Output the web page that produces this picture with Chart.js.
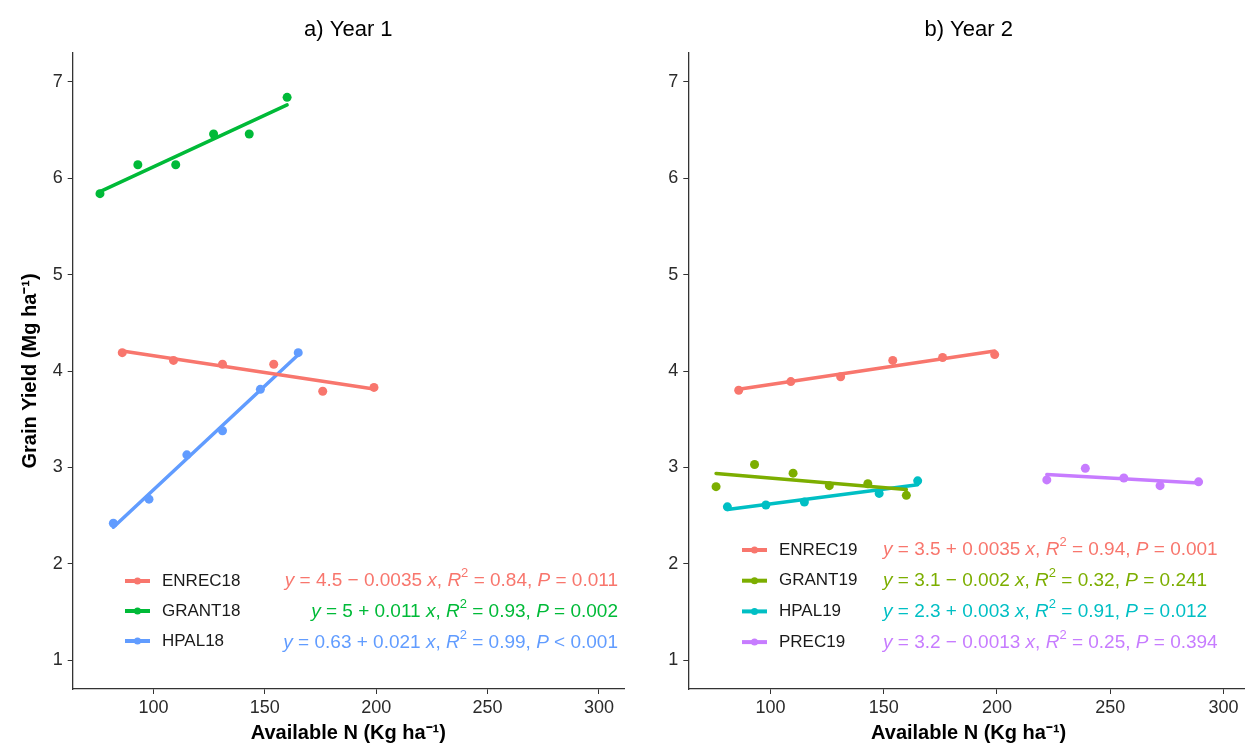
<!DOCTYPE html>
<html>
<head>
<meta charset="utf-8">
<script src="https://cdn.jsdelivr.net/npm/chart.js@4/dist/chart.umd.min.js"></script>
<style>
html, body { margin: 0; padding: 0; background: #fff; overflow: hidden; width: 1245px; height: 753px; }
#year1 { position: absolute; left: 0; top: 0; }
#year2 { position: absolute; left: 620px; top: 0; }
</style>
</head>
<body>
<canvas id="year1" width="630" height="753"></canvas>
<canvas id="year2" width="640" height="753"></canvas>
<script>
// axis ticks
var xTicks = [100, 150, 200, 250, 300];
var yTicks = [1, 2, 3, 4, 5, 6, 7];

// year 1 (2018)
var enrec18N = [86, 109, 131, 154, 176, 199];
var enrec18Yield = [4.19, 4.11, 4.07, 4.07, 3.79, 3.83];
var grant18N = [76, 93, 110, 127, 143, 160];
var grant18Yield = [5.84, 6.14, 6.14, 6.46, 6.46, 6.84];
var hpal18N = [82, 98, 115, 131, 148, 165];
var hpal18Yield = [2.42, 2.67, 3.13, 3.38, 3.81, 4.19];

// year 2 (2019)
var enrec19N = [86, 109, 131, 154, 176, 199];
var enrec19Yield = [3.80, 3.89, 3.94, 4.11, 4.14, 4.17];
var grant19N = [76, 93, 110, 126, 143, 160];
var grant19Yield = [2.80, 3.03, 2.94, 2.81, 2.83, 2.71];
var hpal19N = [81, 98, 115, 148, 165];
var hpal19Yield = [2.59, 2.61, 2.64, 2.73, 2.86];
var prec19N = [222, 239, 256, 272, 289];
var prec19Yield = [2.87, 2.99, 2.89, 2.81, 2.85];

var names18 = ['ENREC18', 'GRANT18', 'HPAL18'];
var eqs18 = [
  'y = 4.5 \u2212 0.0035 x, R\u00b2 = 0.84, P = 0.011',
  'y = 5 + 0.011 x, R\u00b2 = 0.93, P = 0.002',
  'y = 0.63 + 0.021 x, R\u00b2 = 0.99, P < 0.001'
];
var names19 = ['ENREC19', 'GRANT19', 'HPAL19', 'PREC19'];
var eqs19 = [
  'y = 3.5 + 0.0035 x, R\u00b2 = 0.94, P = 0.001',
  'y = 3.1 \u2212 0.002 x, R\u00b2 = 0.32, P = 0.241',
  'y = 2.3 + 0.003 x, R\u00b2 = 0.91, P = 0.012',
  'y = 3.2 \u2212 0.0013 x, R\u00b2 = 0.25, P = 0.394'
];

var colors18 = ['#F8766D', '#00BA38', '#619CFF'];
var colors19 = ['#F8766D', '#7CAE00', '#00BFC4', '#C77CFF'];

var FONT = 'Arial, "Liberation Sans", sans-serif';

// least squares line over the range of the points
function fitLine(xs, ys) {
  var n = xs.length, mx = 0, my = 0, sxy = 0, sxx = 0;
  for (var i = 0; i < n; i++) { mx += xs[i] / n; my += ys[i] / n; }
  for (var j = 0; j < n; j++) {
    sxy += (xs[j] - mx) * (ys[j] - my);
    sxx += (xs[j] - mx) * (xs[j] - mx);
  }
  var b = sxy / sxx, a = my - b * mx;
  var lo = Math.min.apply(null, xs), hi = Math.max.apply(null, xs);
  return [{x: lo, y: a + b * lo}, {x: hi, y: a + b * hi}];
}

function makeDatasets(xsList, ysList, colors) {
  var sets = [];
  xsList.forEach(function(xs, i) {
    var pts = xs.map(function(x, k) { return {x: x, y: ysList[i][k]}; });
    sets.push({
      data: pts, showLine: false, pointRadius: 4.5, pointHoverRadius: 4.5,
      pointBorderWidth: 0, backgroundColor: colors[i], borderColor: colors[i]
    });
    sets.push({
      data: fitLine(xs, ysList[i]), showLine: true, pointRadius: 0,
      borderWidth: 3.5, borderColor: colors[i], borderCapStyle: 'round'
    });
  });
  return sets;
}

function drawEquation(ctx, text, x, y, align, color, size) {
  var parts = [];
  for (var i = 0; i < text.length; i++) {
    var ch = text[i];
    var st = 'yxRP'.indexOf(ch) >= 0 ? 'i' : (ch === '\u00b2' ? 's' : 'n');
    if (ch === '\u00b2') ch = '2';
    if (parts.length && parts[parts.length - 1].st === st) parts[parts.length - 1].t += ch;
    else parts.push({t: ch, st: st});
  }
  function fontFor(st) {
    if (st === 'i') return 'italic ' + size + 'px ' + FONT;
    if (st === 's') return Math.round(size * 0.7) + 'px ' + FONT;
    return size + 'px ' + FONT;
  }
  var total = 0;
  parts.forEach(function(p) { ctx.font = fontFor(p.st); p.w = ctx.measureText(p.t).width; total += p.w; });
  var cx = align === 'right' ? x - total : x;
  ctx.fillStyle = color;
  ctx.textAlign = 'left';
  ctx.textBaseline = 'middle';
  parts.forEach(function(p) {
    ctx.font = fontFor(p.st);
    ctx.fillText(p.t, cx, p.st === 's' ? y - size * 0.38 : y);
    cx += p.w;
  });
}

var panelDecor = {
  id: 'panelDecor',
  afterDraw: function(chart, args, opts) {
    var ctx = chart.ctx, area = chart.chartArea;
    ctx.save();
    ctx.fillStyle = '#000';
    ctx.font = '22px ' + FONT;
    ctx.textAlign = 'center';
    ctx.textBaseline = 'middle';
    ctx.fillText(opts.title, (area.left + area.right) / 2, 30);

    opts.names.forEach(function(name, i) {
      var y = opts.keyY + i * opts.keyGap;
      ctx.strokeStyle = opts.colors[i];
      ctx.lineWidth = 4;
      ctx.beginPath();
      ctx.moveTo(opts.keyX, y);
      ctx.lineTo(opts.keyX + 25, y);
      ctx.stroke();
      ctx.fillStyle = opts.colors[i];
      ctx.beginPath();
      ctx.arc(opts.keyX + 12.5, y, 3.5, 0, Math.PI * 2);
      ctx.fill();
      ctx.fillStyle = '#1a1a1a';
      ctx.font = '17px ' + FONT;
      ctx.textAlign = 'left';
      ctx.textBaseline = 'middle';
      ctx.fillText(name, opts.keyX + 37, y);
    });
    opts.eqs.forEach(function(eq, i) {
      drawEquation(ctx, eq, opts.eqX, opts.eqY + i * opts.eqGap, opts.eqAlign, opts.colors[i], 19);
    });
    ctx.restore();
  }
};

function panelOptions(yWidth, rightPad, yTitle, decor) {
  return {
    responsive: false,
    animation: false,
    layout: { padding: { top: 53, right: rightPad, bottom: 0, left: 0 } },
    plugins: {
      legend: { display: false },
      tooltip: { enabled: false },
      panelDecor: decor
    },
    scales: {
      x: {
        type: 'linear', min: 63.75, max: 311.25,
        afterBuildTicks: function(axis) { axis.ticks = xTicks.map(function(v) { return {value: v}; }); },
        afterFit: function(axis) { axis.height = 64; },
        grid: { drawOnChartArea: false, tickLength: 5, color: '#333', lineWidth: 1 },
        border: { display: true, color: '#333', width: 1.3 },
        ticks: { color: '#2b2b2b', font: { family: FONT, size: 18 }, padding: 3, maxRotation: 0, autoSkip: false },
        title: { display: true, text: 'Available N (Kg ha\u207b\u00b9)', color: '#000',
                 font: { family: FONT, size: 20, weight: 'bold' }, padding: { top: 0, bottom: 8 } }
      },
      y: {
        type: 'linear', min: 0.7, max: 7.3,
        afterBuildTicks: function(axis) { axis.ticks = yTicks.map(function(v) { return {value: v}; }); },
        afterFit: function(axis) { axis.width = yWidth; },
        grid: { drawOnChartArea: false, tickLength: 5, color: '#333', lineWidth: 1 },
        border: { display: true, color: '#333', width: 1.3 },
        ticks: { color: '#2b2b2b', font: { family: FONT, size: 18 }, padding: 5 },
        title: { display: yTitle !== '', text: yTitle, color: '#000',
                 font: { family: FONT, size: 20, weight: 'bold' }, padding: { top: 18, bottom: 0 } }
      }
    }
  };
}

new Chart(document.getElementById('year1'), {
  type: 'scatter',
  data: { datasets: makeDatasets([enrec18N, grant18N, hpal18N], [enrec18Yield, grant18Yield, hpal18Yield], colors18) },
  options: panelOptions(72.7, 6, 'Grain Yield (Mg ha\u207b\u00b9)', {
    title: 'a) Year 1', names: names18, eqs: eqs18, colors: colors18,
    keyX: 125, keyY: 581, keyGap: 30, eqX: 618, eqY: 581, eqGap: 31, eqAlign: 'right'
  }),
  plugins: [panelDecor]
});

new Chart(document.getElementById('year2'), {
  type: 'scatter',
  data: { datasets: makeDatasets([enrec19N, grant19N, hpal19N, prec19N],
                                 [enrec19Yield, grant19Yield, hpal19Yield, prec19Yield], colors19) },
  options: panelOptions(68.3, 11, '', {
    title: 'b) Year 2', names: names19, eqs: eqs19, colors: colors19,
    keyX: 122, keyY: 550, keyGap: 30.7, eqX: 263, eqY: 550, eqGap: 31, eqAlign: 'left'
  }),
  plugins: [panelDecor]
});
</script>
</body>
</html>
